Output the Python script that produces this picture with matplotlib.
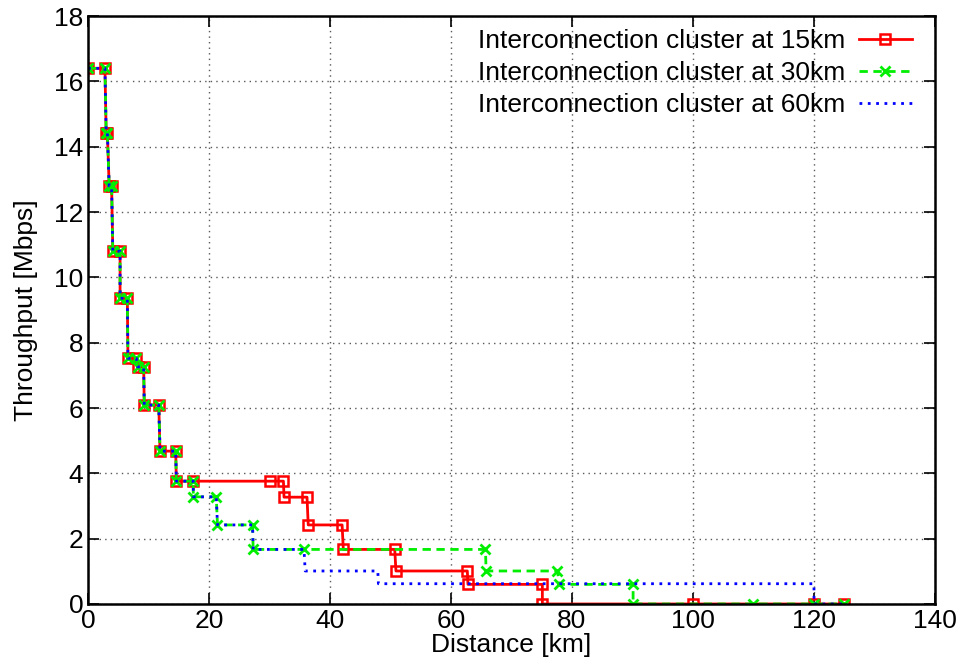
import numpy as np
import matplotlib.pyplot as plt

plt.rcParams['font.family'] = ['Liberation Sans', 'DejaVu Sans']

# throughput steps shared by all three configurations (km, Mbps)
common_x = [0, 2.8, 3.0, 3.2, 3.5, 3.9, 4.1, 5.3, 5.3, 6.5, 6.6, 8.0, 8.2, 9.2,
            9.3, 11.7, 11.9, 14.5, 14.6, 17.4]
common_y = [16.4, 16.4, 14.43, 14.43, 12.8, 12.8, 10.8, 10.8, 9.36, 9.36,
            7.52, 7.52, 7.26, 7.26, 6.09, 6.09, 4.68, 4.68, 3.76, 3.76]

# cluster at 15 km
x15 = common_x + [30.0, 32.3, 32.4, 36.2, 36.4, 42.0, 42.2, 50.7, 50.9, 62.7,
                  62.8, 75.1, 75.1, 100, 120, 125]
y15 = common_y + [3.76, 3.76, 3.27, 3.27, 2.42, 2.42, 1.67, 1.67, 1.01, 1.01,
                  0.60, 0.60, 0, 0, 0, 0]

# cluster at 30 km
x30 = common_x + [17.4, 21.2, 21.4, 27.2, 27.3, 35.7, 65.7, 65.8, 77.6,
                  77.9, 90.1, 90.1, 110, 120, 125]
y30 = common_y + [3.28, 3.28, 2.42, 2.42, 1.67, 1.67, 1.67, 1.01, 1.01,
                  0.60, 0.60, 0, 0, 0, 0]

# cluster at 60 km
x60 = common_x + [17.4, 21.2, 21.4, 27.2, 27.3, 35.7, 35.9, 47.9, 48.0,
                  120, 120, 125]
y60 = common_y + [3.28, 3.28, 2.42, 2.42, 1.67, 1.67, 1.01, 1.01, 0.62,
                  0.62, 0, 0]

fig = plt.figure(figsize=(9.65, 6.69), dpi=100)
ax = fig.add_axes([0.0912, 0.0972, 0.8777, 0.8788])

ax.plot(x15, y15, color='#ff0000', lw=2, marker='s', ms=7.5, mfc='none',
        mec='#ff0000', mew=1.8, label='Interconnection cluster at 15km')
ax.plot(x30, y30, color='#00ee00', lw=2, ls=(0, (3, 2)), marker='x', ms=7,
        mew=2, label='Interconnection cluster at 30km')
ax.plot(x60, y60, color='#0000ff', lw=2, ls=(0, (1, 2)),
        label='Interconnection cluster at 60km')

ax.set_xlim(0, 140)
ax.set_ylim(0, 18)
ax.set_xticks(np.arange(0, 141, 20))
ax.set_yticks(np.arange(0, 19, 2))
ax.tick_params(direction='in', length=8, width=1.2, top=True, right=True,
               labelsize=19)
ax.grid(True, color='0.35', ls=(0, (1, 3)), lw=1)
for s in ax.spines.values():
    s.set_linewidth(1.8)

ax.set_xlabel('Distance [km]', fontsize=19, labelpad=0)
ax.set_ylabel('Throughput [Mbps]', fontsize=19, labelpad=11)

leg = ax.legend(loc='upper right', bbox_to_anchor=(0.988, 1.0),
                frameon=False, markerfirst=False, numpoints=1, fontsize=19,
                handlelength=2.0, labelspacing=0.3, borderaxespad=0.1,
                handletextpad=0.5)

fig.savefig('out.png', dpi=100)
